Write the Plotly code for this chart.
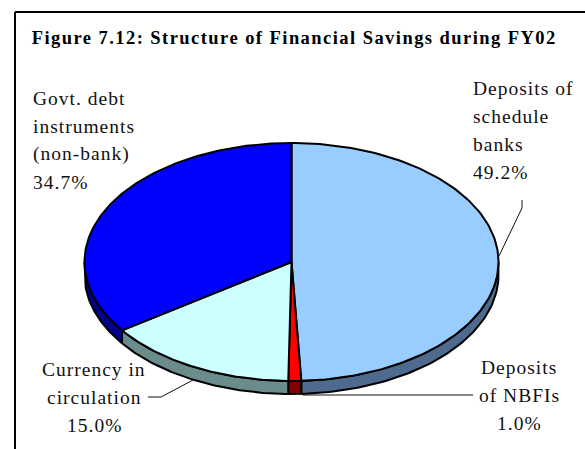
import numpy as np
import plotly.graph_objects as go

categories = ["Deposits of schedule banks", "Deposits of NBFIs", "Currency in circulation", "Govt. debt instruments (non-bank)"]
shares = [49.2, 1.0, 15.0, 34.7]
top_colors = ["#99CCFF", "#FF0000", "#CCFFFF", "#0000FF"]
side_colors = ["#4F6A8F", "#800000", "#6A8C8C", "#00008C"]
label_lines = [["Deposits of", "schedule", "banks", "49.2%"], ["Deposits", "of NBFIs", "1.0%"], ["Currency in", "circulation", "15.0%"], ["Govt. debt", "instruments", "(non-bank)", "34.7%"]]
title_text = "Figure 7.12: Structure of Financial Savings during FY02"

CX, CY, RX, RY, DEPTH = 291.5, 262, 207, 119, 13
W, H = 585, 449
SERIF = "Liberation Serif"

fig = go.Figure()
total = sum(shares)
edges = np.cumsum([0] + shares) / total * 2 * np.pi


def px_point(t):
    return CX + RX * np.sin(t), CY - RY * np.cos(t)


for i in range(len(shares)):
    a = max(edges[i], np.pi / 2)
    b = min(edges[i + 1], 3 * np.pi / 2)
    if b <= a:
        continue
    t = np.linspace(a, b, 80)
    x, y = px_point(t)
    xs = np.r_[x, x[::-1], x[0]]
    ys = np.r_[y, (y + DEPTH)[::-1], y[0]]
    fig.add_trace(go.Scatter(x=xs, y=ys, mode="lines", fill="toself", fillcolor=side_colors[i],
                             line=dict(color="#000000", width=2), hoverinfo="skip", showlegend=False))

for i in range(len(shares)):
    t = np.linspace(edges[i], edges[i + 1], 160)
    x, y = px_point(t)
    xs = np.r_[CX, x, CX]
    ys = np.r_[CY, y, CY]
    fig.add_trace(go.Scatter(x=xs, y=ys, mode="lines", fill="toself", fillcolor=top_colors[i],
                             line=dict(color="#000000", width=2), name=categories[i],
                             hoverinfo="name", showlegend=False))

label_pos = [(471, 88), (519, 367), (94, 369), (31, 98)]
anchors = ["left", "center", "center", "left"]
LINE = 28
for lines, (lx, ly), an in zip(label_lines, label_pos, anchors):
    for j, s in enumerate(lines):
        fig.add_annotation(x=lx, y=ly + j * LINE, text=s, showarrow=False, xref="x", yref="y",
                           xanchor=an, yanchor="middle", align=an,
                           font=dict(family=SERIF, size=19.5, color="#111111"))

for lx, ly in [([499, 522, 522], [256, 208, 200]), ([303, 473], [395, 395]), ([148, 161, 193], [397, 397, 380])]:
    fig.add_trace(go.Scatter(x=lx, y=ly, mode="lines", line=dict(color="#111111", width=1),
                             hoverinfo="skip", showlegend=False))

shapes = [
    dict(type="line", x0=15, x1=15, y0=12, y1=H, line=dict(color="#000000", width=2)),
    dict(type="line", x0=15, x1=W, y0=12, y1=12, line=dict(color="#000000", width=2)),
]
fig.add_annotation(x=42, y=38, xref="x", yref="y", xanchor="left", yanchor="middle", showarrow=False,
                   text="<b>" + title_text + "</b>", font=dict(family=SERIF, size=18.5, color="#000000"))
fig.update_layout(
    width=W, height=H, margin=dict(l=0, r=0, t=0, b=0), paper_bgcolor="white", plot_bgcolor="white",
    xaxis=dict(range=[0, W], visible=False, fixedrange=True),
    yaxis=dict(range=[H, 0], visible=False, fixedrange=True),
    shapes=shapes, showlegend=False,
)
fig.write_html("out.html", config={"displayModeBar": False})

css = ("<style>html,body{margin:0;padding:0;overflow:hidden}"
       ".annotation-text{letter-spacing:1px}"
       ".annotation[data-index='14'] .annotation-text{letter-spacing:1.45px}</style>")
html = open("out.html", encoding="utf-8").read().replace("<head>", "<head>" + css, 1)
open("out.html", "w", encoding="utf-8").write(html)
